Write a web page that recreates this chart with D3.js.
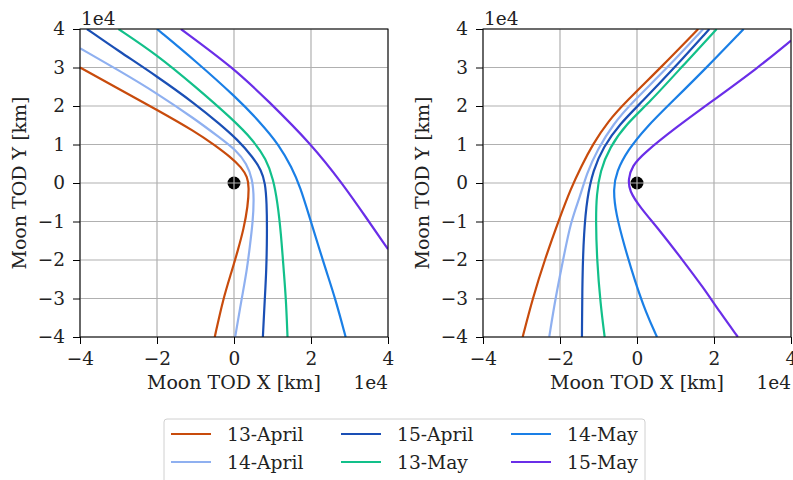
<!DOCTYPE html>
<html>
<head>
<meta charset="utf-8">
<script src="https://cdn.jsdelivr.net/npm/d3@7"></script>
<style>
    body { margin: 0; background: #fff; }
    text { font-family: "DejaVu Serif", serif; fill: #222; }
</style>
</head>
<body>
<svg id="main-svg" width="793" height="480"></svg>
<script>
// series names + colours (legend order is column-wise)
let names = ["13-April", "14-April", "15-April", "13-May", "14-May", "15-May"];
let colors = ["#c84b0c", "#8fb0f0", "#1a4fb5", "#12c08a", "#1a7fe6", "#6a2ee8"];

let xTicks = [-4, -2, 0, 2, 4];
let yTicks = [-4, -3, -2, -1, 0, 1, 2, 3, 4];

// left panel trajectories, [x, y] in 1e4 km
let left13Apr = [[-4, 3.0], [-3, 2.45], [-2, 1.9], [-1, 1.33], [-0.5, 0.98], [-0.1, 0.68], [0.2, 0.4], [0.35, 0.15], [0.39, -0.1], [0.36, -0.6], [0.25, -1.2], [0.1, -1.75], [-0.06, -2.3], [-0.28, -3], [-0.5, -4]];
let left14Apr = [[-4, 3.5], [-3, 2.93], [-2, 2.33], [-1, 1.65], [-0.4, 1.2], [0.06, 0.85], [0.33, 0.5], [0.48, 0.1], [0.52, -0.4], [0.49, -1.0], [0.41, -1.66], [0.33, -2.3], [0.2, -3], [0.03, -4]];
let left15Apr = [[-3.82, 4], [-3, 3.43], [-2, 2.77], [-1, 2.05], [-0.37, 1.53], [0.1, 1.12], [0.49, 0.67], [0.71, 0.33], [0.81, 0], [0.85, -0.5], [0.86, -1.3], [0.84, -2.3], [0.8, -3], [0.75, -4]];
let left13May = [[-3.0, 4], [-2, 3.33], [-1, 2.5], [-0.03, 1.65], [0.49, 1.12], [0.84, 0.62], [1.02, 0.1], [1.13, -0.5], [1.22, -1.3], [1.29, -2.26], [1.35, -3], [1.39, -4]];
let left14May = [[-2, 4], [-1, 3.17], [0.06, 2.22], [0.66, 1.6], [1.18, 0.98], [1.5, 0.4], [1.72, -0.1], [1.96, -0.88], [2.2, -1.66], [2.4, -2.3], [2.63, -3], [2.9, -4]];
let left15May = [[-1.38, 4], [0, 2.98], [0.88, 2.14], [2.0, 1.02], [2.82, -0.02], [3.42, -0.88], [4, -1.72]];

// right panel trajectories
let right13Apr = [[1.59, 4], [0.62, 3], [-0.3, 2.1], [-0.75, 1.6], [-1.14, 1.02], [-1.46, 0.41], [-1.72, -0.15], [-2.0, -0.88], [-2.4, -2], [-2.71, -3], [-2.97, -4]];
let right14Apr = [[1.72, 4], [0.8, 3], [-0.12, 2.1], [-0.62, 1.53], [-1.03, 0.86], [-1.31, 0.24], [-1.48, -0.36], [-1.72, -1], [-1.92, -2], [-2.12, -3], [-2.28, -4]];
let right15Apr = [[1.88, 4], [0.98, 3], [0.12, 2.1], [-0.45, 1.53], [-0.88, 0.93], [-1.14, 0.33], [-1.3, -0.4], [-1.38, -1.3], [-1.42, -2.44], [-1.43, -4]];
let right13May = [[2.07, 4], [1.15, 3], [0.33, 2.1], [-0.28, 1.53], [-0.71, 0.93], [-0.96, 0.3], [-1.05, -0.3], [-1.07, -0.97], [-1.04, -2.01], [-0.95, -3.13], [-0.84, -4]];
let right14May = [[2.77, 4], [1.81, 3], [0.9, 2.1], [0.24, 1.45], [-0.25, 0.84], [-0.53, 0.3], [-0.62, -0.15], [-0.55, -0.8], [-0.32, -1.66], [-0.06, -2.53], [0.24, -3.39], [0.52, -4]];
let right15May = [[4, 3.7], [3.15, 3], [1.97, 2.14], [1.02, 1.45], [0.16, 0.76], [-0.12, 0.45], [-0.23, 0.1], [-0.2, -0.2], [0.07, -0.62], [0.59, -1.23], [1.19, -2.01], [1.71, -2.70], [2.15, -3.35], [2.62, -4]];

let leftSeries = [left13Apr, left14Apr, left15Apr, left13May, left14May, left15May];
let rightSeries = [right13Apr, right14Apr, right15Apr, right13May, right14May, right15May];

let svg = d3.select("#main-svg");
let tickFont = 18.5;
let labelFont = 19;
let legendFont = 18.7;
let plotSize = 308;
let plotTop = 29;

function drawPanel(left, series, id) {
    let x = d3.scaleLinear().domain([-4, 4]).range([left, left + plotSize]);
    let y = d3.scaleLinear().domain([-4, 4]).range([plotTop + plotSize, plotTop]);
    let g = svg.append("g");

    g.append("clipPath").attr("id", "clip-" + id)
        .append("rect")
        .attr("x", left).attr("y", plotTop)
        .attr("width", plotSize).attr("height", plotSize);

    // moon marker sits under the grid
    g.append("circle")
        .attr("cx", x(0)).attr("cy", y(0))
        .attr("r", 6.5)
        .attr("fill", "#000");

    // grid
    g.selectAll(".gx").data(xTicks).enter().append("line")
        .attr("x1", d => x(d)).attr("x2", d => x(d))
        .attr("y1", plotTop).attr("y2", plotTop + plotSize)
        .attr("stroke", "#b0b0b0").attr("stroke-width", 1.2);
    g.selectAll(".gy").data(yTicks).enter().append("line")
        .attr("y1", d => y(d)).attr("y2", d => y(d))
        .attr("x1", left).attr("x2", left + plotSize)
        .attr("stroke", "#b0b0b0").attr("stroke-width", 1.2);

    // b-spline smooths out small reading errors in the points
    let line = d3.line()
        .curve(d3.curveBasis)
        .x(d => x(d[0]))
        .y(d => y(d[1]));

    g.append("g").attr("clip-path", "url(#clip-" + id + ")")
        .selectAll("path").data(series).enter().append("path")
        .attr("d", line)
        .attr("fill", "none")
        .attr("stroke", (d, i) => colors[i])
        .attr("stroke-width", 2.2)
        .attr("stroke-linejoin", "round");

    // axes
    let xAxis = d3.axisBottom(x).tickValues(xTicks).tickSize(7).tickPadding(8);
    let yAxis = d3.axisLeft(y).tickValues(yTicks).tickSize(7).tickPadding(8);

    let gx = g.append("g").attr("transform", "translate(0," + (plotTop + plotSize) + ")").call(xAxis);
    let gy = g.append("g").attr("transform", "translate(" + left + ",0)").call(yAxis);
    [gx, gy].forEach(function (a) {
        a.select(".domain").remove();
        a.selectAll("line").attr("stroke", "#000").attr("stroke-width", 1);
        a.selectAll("text").style("font-size", tickFont + "px").attr("fill", "#222")
            .style("font-family", "DejaVu Serif");
    });

    g.append("rect")
        .attr("x", left).attr("y", plotTop)
        .attr("width", plotSize).attr("height", plotSize)
        .attr("fill", "none").attr("stroke", "#000").attr("stroke-width", 1);

    // labels and offset texts
    g.append("text")
        .attr("x", x(0)).attr("y", 389)
        .attr("text-anchor", "middle")
        .style("font-size", labelFont + "px")
        .text("Moon TOD X [km]");
    g.append("text")
        .attr("x", left + plotSize).attr("y", 389)
        .attr("text-anchor", "end")
        .style("font-size", tickFont + "px")
        .text("1e4");
    g.append("text")
        .attr("x", left + 1).attr("y", 25)
        .style("font-size", tickFont + "px")
        .text("1e4");
    g.append("text")
        .attr("transform", "translate(" + (left - 54) + "," + y(0) + ") rotate(-90)")
        .attr("text-anchor", "middle")
        .style("font-size", labelFont + "px")
        .text("Moon TOD Y [km]");
}

drawPanel(80, leftSeries, "l");
drawPanel(483, rightSeries, "r");

// legend
let legend = svg.append("g");
legend.append("rect")
    .attr("x", 164).attr("y", 419)
    .attr("width", 481).attr("height", 70)
    .attr("rx", 3)
    .attr("fill", "#fff")
    .attr("stroke", "#d0d0d0");

let colX = [171, 341, 511];
let rowY = [434, 462];
names.forEach(function (n, i) {
    let cx = colX[Math.floor(i / 2)];
    let cy = rowY[i % 2];
    legend.append("line")
        .attr("x1", cx).attr("x2", cx + 40)
        .attr("y1", cy).attr("y2", cy)
        .attr("stroke", colors[i]).attr("stroke-width", 2.2);
    legend.append("text")
        .attr("x", cx + 56).attr("y", cy + 6.5)
        .style("font-size", legendFont + "px")
        .text(n);
});
</script>
</body>
</html>
